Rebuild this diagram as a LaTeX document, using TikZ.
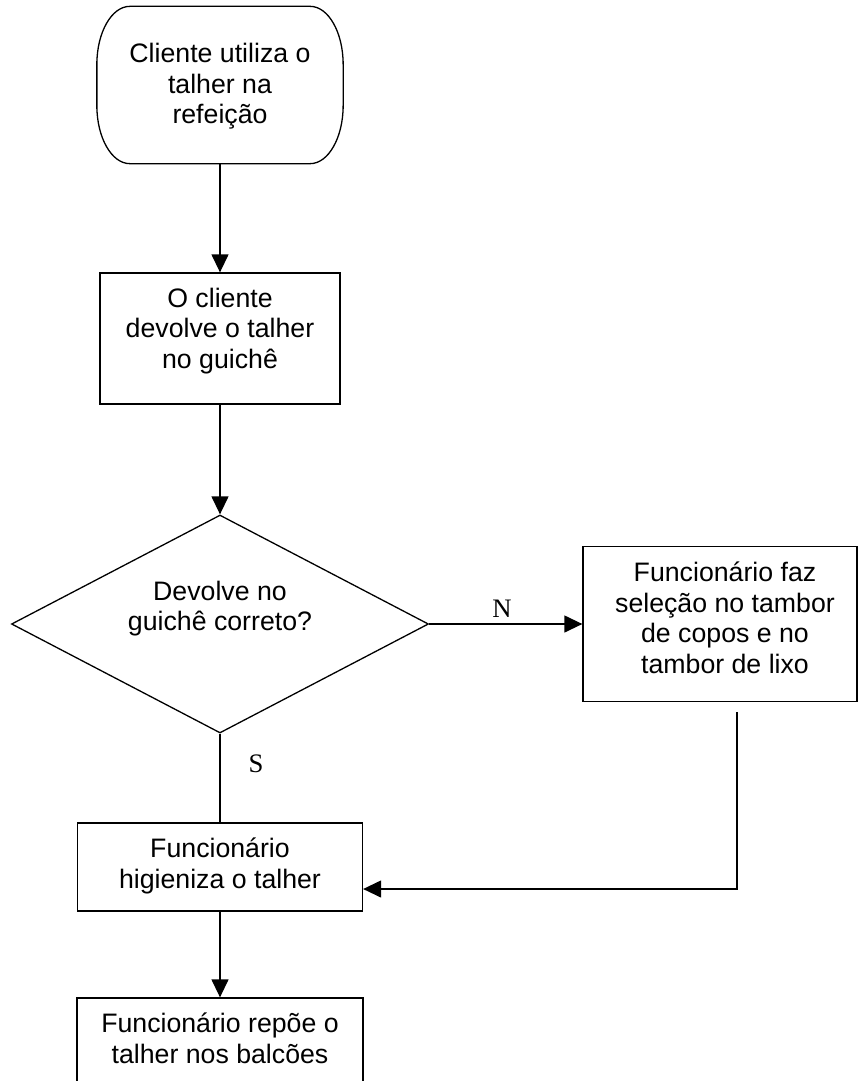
\documentclass[tikz,border=0pt]{standalone}
\usepackage{fontspec}
\setmainfont{Liberation Sans}
\newfontfamily\timesfont{Liberation Serif}
\usetikzlibrary{arrows.meta,shapes.geometric}
\newcommand\mylines[2]{\raisebox{#1}[\height][\depth]{\begin{tabular}{@{}c@{}}#2\end{tabular}}}
\begin{document}
\begin{tikzpicture}[x=1pt,y=-1pt,line width=1.3pt,
  font=\fontsize{26.7}{30.5}\selectfont,
  plain/.style={rectangle,inner sep=0pt},
  box/.style={draw,rectangle,inner sep=0pt},
  arr/.style={-{Triangle[length=18pt,width=17pt]}},
  lab/.style={inner sep=0pt,font=\fontsize{26.7}{30.5}\selectfont\timesfont}]
\useasboundingbox (0,0) rectangle (858,1081);
\fill[white] (0,0) rectangle (858,1081);
\clip (0,0) rectangle (858,1081);

% start terminal
\node[plain,minimum width=245,minimum height=156] (start) at (220,85)
  {\mylines{-2.4pt}{Cliente utiliza o\\talher na\\refeição}};
\draw ([xshift=33pt]start.north west) -- ([xshift=-33pt]start.north east)
  .. controls ([xshift=-14.8pt]start.north east) and ([yshift=-26pt]start.north east) .. ([yshift=-58pt]start.north east)
  -- ([yshift=58pt]start.south east)
  .. controls ([yshift=26pt]start.south east) and ([xshift=-14.8pt]start.south east) .. ([xshift=-33pt]start.south east)
  -- ([xshift=33pt]start.south west)
  .. controls ([xshift=14.8pt]start.south west) and ([yshift=26pt]start.south west) .. ([yshift=58pt]start.south west)
  -- ([yshift=-58pt]start.north west)
  .. controls ([yshift=-26pt]start.north west) and ([xshift=14.8pt]start.north west) .. ([xshift=33pt]start.north west)
  -- cycle;

\node[box,minimum width=240,minimum height=131] (b2) at (220,338.5)
  {\mylines{7pt}{O cliente\\devolve o talher\\no guichê}};

\node[draw,diamond,aspect=1.91,inner sep=0pt,minimum width=417,minimum height=218] (dec) at (220,624)
  {\mylines{14.6pt}{Devolve no\\guichê correto?}};

\node[box,minimum width=274,minimum height=155] (sel) at (720,624)
  {\hspace*{10pt}\mylines{2.6pt}{Funcionário faz\\seleção no tambor\\de copos e no\\tambor de lixo}};

\node[box,minimum width=285,minimum height=88] (b3) at (220,867)
  {\mylines{0pt}{Funcionário\\higieniza o talher}};

\node[box,minimum width=286,minimum height=88] (b4) at (220,1042)
  {\mylines{0pt}{Funcionário repõe o\\talher nos balcões}};

\node[lab] (nlab) at (502,608.5) {N};
\node[lab] (slab) at (256,763.5) {S};

\coordinate (rs) at (737,712);

\draw[arr] (start.south) -- (b2.north);
\draw[arr] (b2.south) -- (dec.north);
\draw[arr] (dec.east) -- (sel.west);
\draw (dec.south) -- (b3.north);
\draw[arr] (rs) |- ([yshift=-22pt]b3.east);
\draw[arr] (b3.south) -- (b4.north);
\end{tikzpicture}
\end{document}
